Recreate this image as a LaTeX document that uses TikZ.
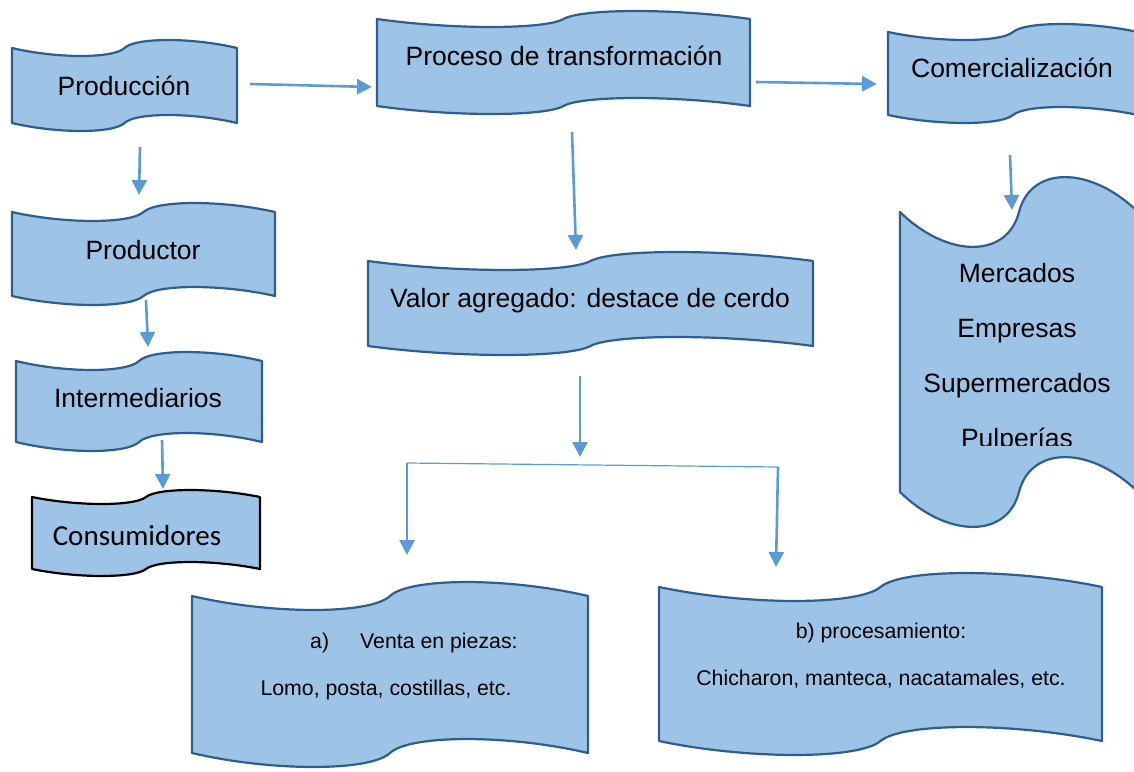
\documentclass[tikz,border=0pt]{standalone}
\usepackage{fontspec}
\setmainfont{Liberation Sans}
\newfontfamily\calibri{Carlito}
\usetikzlibrary{arrows.meta}

\definecolor{relleno}{HTML}{9DC3E6}
\definecolor{borde}{HTML}{2E5E8E}
\definecolor{azulflecha}{HTML}{5B9BD5}

% banda ondulada: [estilo]{x0}{y0}{x1}{y1}{amplitud}
\newcommand{\wavebox}[6][onda]{%
  \pgfmathsetmacro{\wvW}{#4-#2}%
  \pgfmathsetmacro{\wvM}{(#2+#4)/2}%
  \pgfmathsetmacro{\wvA}{#2+0.2*\wvW}%
  \pgfmathsetmacro{\wvB}{#2+0.45*\wvW}%
  \pgfmathsetmacro{\wvC}{#2+0.55*\wvW}%
  \pgfmathsetmacro{\wvD}{#2+0.8*\wvW}%
  \pgfmathsetmacro{\wvK}{1.33*#6}%
  \draw[#1] (#2,#3) .. controls (\wvA,#3+\wvK) and (\wvB,#3+\wvK) .. (\wvM,#3)
    .. controls (\wvC,#3-\wvK) and (\wvD,#3-\wvK) .. (#4,#3)
    -- (#4,#5)
    .. controls (\wvD,#5-\wvK) and (\wvC,#5-\wvK) .. (\wvM,#5)
    .. controls (\wvB,#5+\wvK) and (\wvA,#5+\wvK) .. (#2,#5) -- cycle;}

\tikzset{
  onda/.style={draw=borde, fill=relleno, line width=2.2pt, line join=round},
  ondanegra/.style={onda, draw=black},
  texto/.style={anchor=base, inner sep=0pt, font=\fontsize{26.5}{30}\selectfont},
  textochico/.style={anchor=base, inner sep=0pt, font=\fontsize{21.3}{25}\selectfont},
  flecha/.style={draw=azulflecha, fill=azulflecha, line width=2.6pt,
    -{Triangle[width=15pt,length=15pt]}},
  linea/.style={draw=azulflecha, line width=1.2pt},
}

\begin{document}
\begin{tikzpicture}[x=1pt, y=-1pt]
	\clip (0,0) rectangle (1134,771);

	% bandas
	\wavebox{12}{48}{237}{123}{8}
	\wavebox{377}{19}{750}{106}{8}
	\wavebox{888}{32}{1138}{115}{8}
	\wavebox{12}{212}{275}{296}{9}
	\wavebox{16}{361}{262}{442}{9}
	\wavebox[ondanegra]{32}{497}{260}{569}{7}
	\wavebox{368}{261}{813}{346}{9}
	\wavebox{900}{212}{1138}{492}{35}
	\wavebox{192}{596}{588}{753}{14}
	\wavebox{659}{587}{1102}{741}{14}

	% textos
	\node[texto] (prod) at (124,95) {Producción};
	\node[texto] (proc) at (564,65) {Proceso de transformación};
	\node[texto] (com) at (1012,77) {Comercialización};
	\node[texto] (productor) at (143,259) {Productor};
	\node[texto] (inter) at (138,407) {Intermediarios};
	\node[texto, font=\calibri\fontsize{29}{34}\selectfont] (cons) at (137,545) {Consumidores};
	\node[texto] (valor) at (590,307) {Valor agregado: destace de cerdo};
	\node[texto] (merc) at (1017,282) {Mercados};
	\node[texto] (emp) at (1017,337) {Empresas};
	\node[texto] (super) at (1017,392) {Supermercados};
	\begin{scope}
		\clip (900,400) rectangle (1134,445);
		\node[texto] (pulp) at (1017,447) {Pulperías};
	\end{scope}
	\node[textochico, anchor=base west] (venta) at (310,648) {a)\hspace{31pt}Venta en piezas:};
	\node[textochico] (lomo) at (386,695) {Lomo, posta, costillas, etc.};
	\node[textochico] (procb) at (881,638) {b) procesamiento:};
	\node[textochico] (chich) at (881,685) {Chicharon, manteca, nacatamales, etc.};

	% extremos de flechas
	\coordinate (prodOut) at (250,84);
	\coordinate (procIn) at (372,87);
	\coordinate (procOut) at (756,82);
	\coordinate (comIn) at (877,84);
	\coordinate (prodDown) at (140,147);
	\coordinate (productorIn) at (139,195);
	\coordinate (productorOut) at (146,300);
	\coordinate (interIn) at (148,347);
	\coordinate (interOut) at (162,440);
	\coordinate (consIn) at (163,489);
	\coordinate (procDown) at (572,132);
	\coordinate (valorIn) at (576,250);
	\coordinate (valorOut) at (580,376);
	\coordinate (ramal) at (580,457);
	\coordinate (ramalIzq) at (407,463);
	\coordinate (ramalDer) at (778,467);
	\coordinate (ventaIn) at (407,555);
	\coordinate (procbIn) at (776,567);
	\coordinate (comDown) at (1010,155);
	\coordinate (mercIn) at (1012,210);

	\draw[linea] (ramalIzq) -- (ramalDer);
	\draw[flecha] (prodOut) -- (procIn);
	\draw[flecha] (procOut) -- (comIn);
	\draw[flecha] (prodDown) -- (productorIn);
	\draw[flecha] (productorOut) -- (interIn);
	\draw[flecha] (interOut) -- (consIn);
	\draw[flecha] (procDown) -- (valorIn);
	\draw[flecha] (valorOut) -- (ramal);
	\draw[flecha] (ramalIzq) -- (ventaIn);
	\draw[flecha] (ramalDer) -- (procbIn);
	\draw[flecha] (comDown) -- (mercIn);
\end{tikzpicture}
\end{document}
